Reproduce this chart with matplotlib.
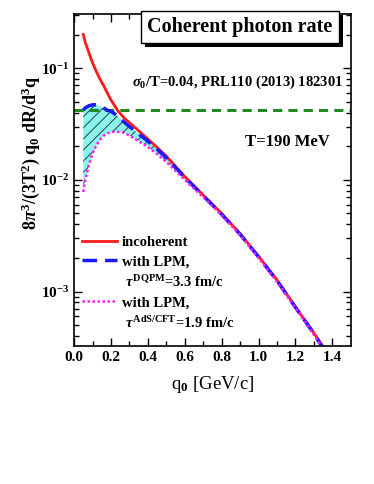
import numpy as np
import matplotlib
matplotlib.use("Agg")
import matplotlib.pyplot as plt
from matplotlib.lines import Line2D
from matplotlib.patches import Rectangle
from matplotlib.transforms import IdentityTransform

plt.rcParams['font.family'] = ['Liberation Serif', 'DejaVu Serif']
plt.rcParams['font.weight'] = 'bold'
plt.rcParams['mathtext.fontset'] = 'custom'
plt.rcParams['mathtext.rm'] = 'Liberation Serif:bold'
plt.rcParams['mathtext.it'] = 'Liberation Serif:italic:bold'
plt.rcParams['mathtext.bf'] = 'Liberation Serif:bold'
plt.rcParams['hatch.linewidth'] = 0.7

# photon energy grid [GeV/c]
q0 = [0.05, 0.06, 0.08, 0.10, 0.12, 0.14, 0.16, 0.18, 0.20, 0.22, 0.24, 0.27,
      0.30, 0.35, 0.40, 0.45, 0.50, 0.60, 0.70, 0.80, 0.90, 1.00, 1.10, 1.20,
      1.30, 1.35]
# incoherent rate
rate_incoh = [0.200, 0.172, 0.138, 0.112, 0.094, 0.080, 0.070, 0.060, 0.052, 0.046,
              0.041, 0.036, 0.0325, 0.0275, 0.0232, 0.0195, 0.0163, 0.0107, 0.0073,
              0.0050, 0.0033, 0.00207, 0.00127, 0.00073, 0.000425, 0.00032]
# with LPM, tau_DQPM = 3.3 fm/c
rate_dqpm = [0.042, 0.044, 0.046, 0.047, 0.047, 0.046, 0.044, 0.042, 0.041, 0.039,
             0.037, 0.033, 0.030, 0.0258, 0.0222, 0.0188, 0.0158, 0.0105, 0.0072,
             0.0049, 0.00325, 0.00204, 0.00125, 0.00072, 0.00042, 0.00031]
# with LPM, tau_AdS/CFT = 1.9 fm/c
rate_ads = [0.0078, 0.0098, 0.0135, 0.0172, 0.0202, 0.0228, 0.0248, 0.026, 0.0268,
            0.027, 0.0269, 0.0264, 0.025, 0.0222, 0.0197, 0.0170, 0.0145, 0.0100,
            0.0070, 0.0048, 0.0032, 0.0020, 0.00122, 0.00071, 0.00041, 0.00031]
sigma_level = 0.042

fig = plt.figure(figsize=(3.74, 4.84), dpi=100)
ax = fig.add_axes([0.198, 0.285, 0.74, 0.686])

ax.fill_between(q0, rate_ads, rate_dqpm, facecolor='#8cf2ec', edgecolor='#1f4545',
                hatch='///', linewidth=0)
ax.axhline(sigma_level, color='#1f8a1f', lw=2.2, ls=(0, (3, 2)))
l1, = ax.plot(q0, rate_incoh, color='#ff1a1a', lw=2.0)
l2, = ax.plot(q0, rate_dqpm, color='#1a1aff', lw=2.5, ls=(0, (4.2, 2.3)))
l3, = ax.plot(q0, rate_ads, color='#ff1aff', lw=1.8, ls=(0, (1, 1)))

ax.set_yscale('log')
ax.set_xlim(0, 1.5)
ax.set_ylim(3.25e-4, 0.305)
ax.set_xticks(np.arange(0, 1.41, 0.2))
ax.set_xticks(np.arange(0.1, 1.5, 0.2), minor=True)
ax.tick_params(which='both', direction='in', top=True, right=True, labelsize=11, width=1)
ax.tick_params(which='major', length=6)
ax.tick_params(which='minor', length=3.5)
for s in ax.spines.values():
    s.set_linewidth(1.2)
ax.set_xlabel(r'q$_0$ [GeV/c]', fontsize=13.5, labelpad=7)
fig.text(0.082, 0.684, r'8$\pi^3$/(3T$^2$) q$_0$ dR/d$^3$q', rotation=90,
         ha='center', va='center', fontsize=13)

blank = Line2D([], [], color='none')
ax.legend([l1, l2, blank, l3, blank],
          ['incoherent', 'with LPM,', r' $\tau^{\mathrm{DQPM}}$=3.3 fm/c',
           'with LPM,', r' $\tau^{\mathrm{AdS/CFT}}$=1.9 fm/c'],
          loc='upper left', bbox_to_anchor=(0.03, 0.333), frameon=False,
          fontsize=10.5, handlelength=2.4, handletextpad=0.3, labelspacing=0.42,
          borderpad=0, borderaxespad=0)

title = ax.text(0.60, 0.962, 'Coherent photon rate', transform=ax.transAxes,
                ha='center', va='center', fontsize=14.5, zorder=10,
                bbox=dict(boxstyle='square,pad=0.3', fc='white', ec='black', lw=1))
ax.text(0.972, 0.795, r'$\sigma_0$/T=0.04, PRL110 (2013) 182301', transform=ax.transAxes,
        ha='right', va='center', fontsize=10.5)
ax.text(0.925, 0.614, 'T=190 MeV', transform=ax.transAxes, ha='right', va='center',
        fontsize=12)

# drop shadow behind the title box
fig.canvas.draw()
bb = title.get_bbox_patch().get_window_extent()
ax.add_artist(Rectangle((bb.x0 + 4, bb.y0 - 4), bb.width, bb.height,
                        transform=IdentityTransform(), facecolor='black',
                        edgecolor='none', zorder=9, clip_on=False))

fig.savefig('out.png', dpi=100)
